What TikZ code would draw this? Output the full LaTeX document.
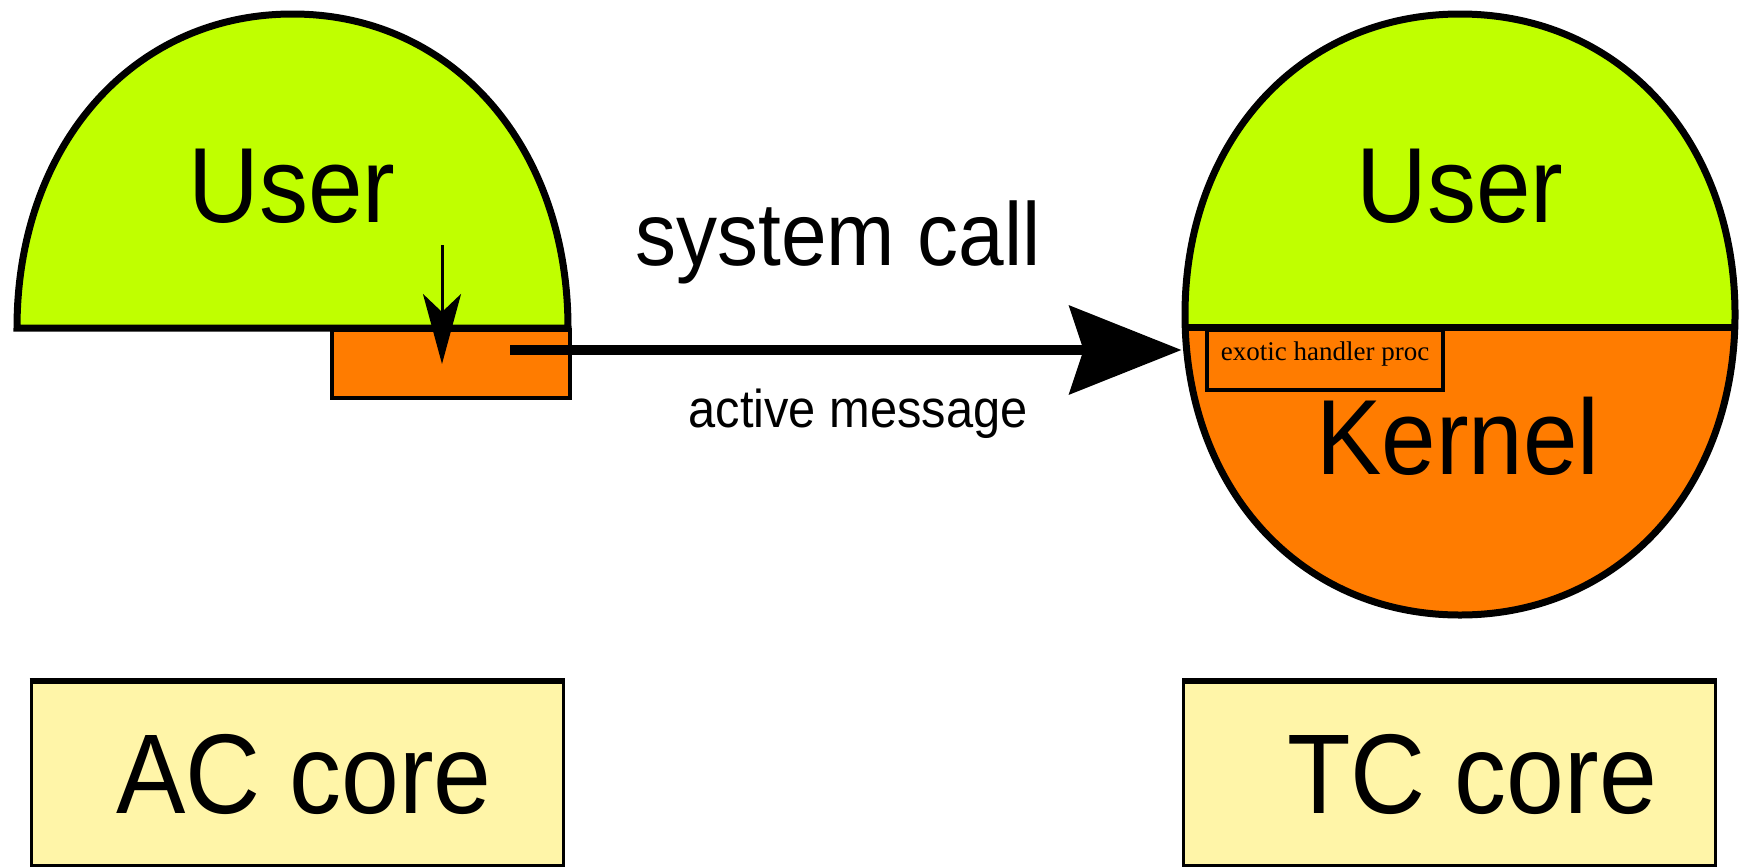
\documentclass[tikz,border=0pt]{standalone}
\usepackage{fontspec}
\setmainfont{Liberation Sans}
\newfontfamily\handlerfont{Liberation Serif}
\usepackage{graphicx}
\usetikzlibrary{arrows.meta}

\definecolor{usergreen}{RGB}{192,255,0}
\definecolor{kernelorange}{RGB}{255,124,0}
\definecolor{coreyellow}{RGB}{255,245,168}
\newcommand{\tallbox}[1]{\scalebox{1}[1.09]{#1}}

\begin{document}
\begin{tikzpicture}[
    x=0.5pt, y=-0.5pt,
    half/.style={draw, line width=3.5pt},
    stub/.style={draw, line width=2pt, fill=kernelorange, inner sep=0pt},
    corebox/.style={draw, line width=1.5pt, fill=coreyellow, inner sep=0pt,
                    minimum width=266pt, minimum height=91.5pt},
    arr/.style={-{Stealth[length=56pt, width=44pt, inset=7pt]}, line width=5pt},
    callarr/.style={-{Stealth[length=35pt, width=19pt, inset=9pt]}, line width=1.5pt},
    lbl/.style={anchor=base, inner sep=0pt},
    bigtxt/.style={lbl, font=\fontsize{49}{58}\selectfont},
    coretxt/.style={lbl, font=\fontsize{52}{62}\selectfont}
]
\useasboundingbox (0,0) rectangle (1748,867);

% AC core: user half with the stub below it
\node[stub, minimum width=119pt, minimum height=34pt] (acstub) at (451,364) {};
\draw[half, fill=usergreen] (17,328) .. controls (17,145.9) and (132.7,14) .. (292.5,14)
    .. controls (452.3,14) and (568,145.9) .. (568,328) -- cycle;
\node[bigtxt] (userac) at (292,222) {\tallbox{User}};

% TC core: user half over kernel half
\draw[half, fill=kernelorange, path picture={
        \fill[usergreen] (1150,0) rectangle (1748,327);
        \draw[line width=3.5pt] (1150,327) -- (1748,327);}]
    (1185,314.5) .. controls (1185,140.2) and (1300.5,14) .. (1460,14)
    .. controls (1619.5,14) and (1735,140.2) .. (1735,314.5)
    .. controls (1735,488.8) and (1619.5,615) .. (1460,615)
    .. controls (1300.5,615) and (1185,488.8) .. (1185,314.5) -- cycle;
\node[stub, minimum width=118pt, minimum height=30pt] (exobox) at (1325,360) {};
\node[lbl, font=\handlerfont\fontsize{13.5}{16}\selectfont] (exolbl) at (1325,360) {exotic handler proc};
\node[bigtxt] (usertc) at (1460,222) {\tallbox{User}};
\node[bigtxt] (kernel) at (1458,474) {\tallbox{Kernel}};

% arrows
\coordinate (callsrc) at (442,245);
\draw[callarr] (callsrc) -- (callsrc |- acstub.center);
\coordinate (amsrc) at (510,350);
\coordinate (tcedge) at (1181.5,350);
\draw[arr] (amsrc) -- (tcedge);
\node[lbl, font=\fontsize{41}{49}\selectfont] (syscall) at (838,265) {\tallbox{system call}};
\node[lbl, font=\fontsize{24.4}{29}\selectfont] (amsg) at (858,427) {\tallbox{active message}};

% core boxes
\node[corebox] (accore) at (297,773.5) {};
\node[corebox] (tccore) at (1449.5,773.5) {};
\draw[line width=2.5pt] (accore.north west) -- (accore.north east);
\draw[line width=2.5pt] (tccore.north west) -- (tccore.north east);
\node[coretxt] (aclbl) at (304,813) {\tallbox{AC core}};
\node[coretxt] (tclbl) at (1472,813) {\tallbox{TC core}};
\end{tikzpicture}
\end{document}
